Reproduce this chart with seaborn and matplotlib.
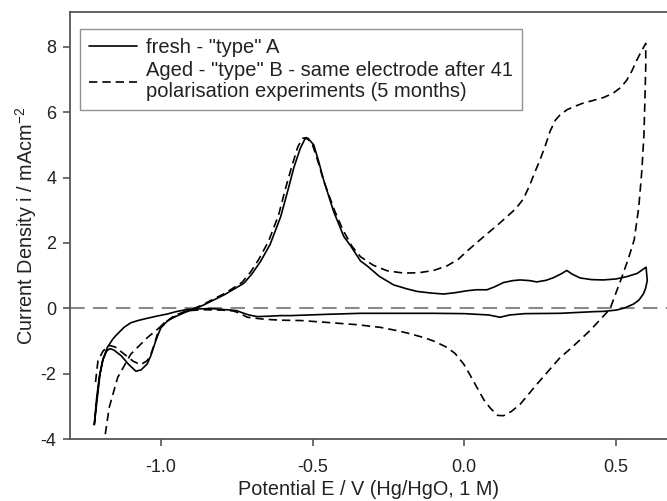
import matplotlib
matplotlib.use("Agg")
import matplotlib.pyplot as plt
import seaborn as sns
import pandas as pd
from matplotlib.lines import Line2D

# Cyclic voltammograms: potential E (V vs Hg/HgO) and current density i (mA cm^-2)
fresh_E = [-1.219, -1.21, -1.2, -1.19, -1.178, -1.168, -1.155, -1.13, -1.105, -1.082,
           -1.065, -1.045, -1.033, -1.015, -1.0, -0.978, -0.956, -0.92, -0.89, -0.86,
           -0.825, -0.79, -0.759, -0.726, -0.7, -0.671, -0.64, -0.605, -0.58, -0.561,
           -0.54, -0.525, -0.515, -0.496, -0.48, -0.463, -0.43, -0.397, -0.375, -0.342,
           -0.32, -0.28, -0.233, -0.19, -0.156, -0.11, -0.068, -0.03, 0.009, 0.04,
           0.075, 0.1, 0.129, 0.16, 0.184, 0.215, 0.239, 0.27, 0.294, 0.32,
           0.338, 0.355, 0.382, 0.42, 0.458, 0.5, 0.535, 0.57, 0.599,
           0.603, 0.597, 0.59, 0.575, 0.557, 0.53, 0.502, 0.46, 0.426, 0.316,
           0.2, 0.15, 0.118, 0.08, 0.0, -0.1, -0.2, -0.342, -0.45, -0.572,
           -0.605, -0.65, -0.682, -0.71, -0.726, -0.75, -0.77, -0.8, -0.825, -0.87,
           -0.912, -0.95, -0.978, -1.01, -1.044, -1.075, -1.099, -1.12, -1.132, -1.148,
           -1.159, -1.176, -1.192, -1.203, -1.212, -1.219]
fresh_i = [-3.55, -2.8, -2.0, -1.55, -1.3, -1.23, -1.27, -1.45, -1.72, -1.92,
           -1.88, -1.7, -1.45, -0.95, -0.6, -0.38, -0.27, -0.12, -0.02, 0.1,
           0.26, 0.42, 0.59, 0.77, 1.05, 1.44, 1.95, 2.8, 3.65, 4.32,
           4.9, 5.18, 5.2, 5.0, 4.5, 3.91, 2.95, 2.2, 1.92, 1.45,
           1.3, 0.98, 0.72, 0.6, 0.52, 0.47, 0.44, 0.48, 0.54, 0.57,
           0.57, 0.66, 0.79, 0.85, 0.87, 0.85, 0.81, 0.86, 0.94, 1.06,
           1.16, 1.05, 0.93, 0.88, 0.87, 0.9, 0.97, 1.07, 1.26,
           0.85, 0.6, 0.44, 0.25, 0.13, 0.02, -0.05, -0.09, -0.1, -0.15,
           -0.16, -0.2, -0.27, -0.2, -0.16, -0.15, -0.15, -0.15, -0.18, -0.22,
           -0.22, -0.24, -0.25, -0.2, -0.15, -0.07, -0.05, -0.03, -0.01, -0.01,
           -0.03, -0.1, -0.17, -0.23, -0.3, -0.37, -0.44, -0.57, -0.68, -0.83,
           -0.95, -1.19, -1.6, -2.11, -2.8, -3.55]

aged_E = [-1.215, -1.207, -1.19, -1.17, -1.15, -1.12, -1.09, -1.066, -1.045, -1.033,
          -1.018, -1.006, -0.985, -0.956, -0.92, -0.89, -0.86, -0.83, -0.795, -0.765,
          -0.732, -0.705, -0.677, -0.645, -0.612, -0.588, -0.568, -0.548, -0.532, -0.52,
          -0.5, -0.484, -0.465, -0.43, -0.4, -0.37, -0.342, -0.3, -0.254, -0.2,
          -0.15, -0.101, -0.057, -0.02, 0.009, 0.04, 0.075, 0.11, 0.14, 0.17,
          0.195, 0.215, 0.232, 0.25, 0.268, 0.283, 0.3, 0.316, 0.34, 0.36,
          0.39, 0.426, 0.46, 0.491, 0.515, 0.535, 0.553, 0.568, 0.583, 0.598,
          0.598, 0.595, 0.592, 0.585, 0.575, 0.56, 0.54, 0.519, 0.48, 0.414,
          0.349, 0.316, 0.239, 0.184, 0.155, 0.129, 0.11, 0.086, 0.065, 0.042,
          0.02, -0.002, -0.03, -0.057, -0.1, -0.134, -0.18, -0.221, -0.276, -0.35,
          -0.45, -0.54, -0.605, -0.66, -0.715, -0.74, -0.76, -0.8, -0.86, -0.912,
          -0.956, -0.99, -1.044, -1.099, -1.142, -1.17, -1.19]
aged_i = [-2.25, -1.6, -1.3, -1.13, -1.18, -1.4, -1.62, -1.72, -1.6, -1.42,
          -1.0, -0.62, -0.4, -0.26, -0.1, 0.0, 0.12, 0.27, 0.43, 0.6,
          0.8, 1.1, 1.5, 2.05, 2.85, 3.7, 4.35, 4.95, 5.2, 5.22,
          5.0, 4.55, 3.95, 3.05, 2.4, 1.9, 1.58, 1.32, 1.15, 1.08,
          1.09, 1.16, 1.3, 1.5, 1.75, 2.0, 2.28, 2.55, 2.8, 3.05,
          3.35, 3.75, 4.15, 4.55, 5.0, 5.42, 5.75, 5.92, 6.08, 6.16,
          6.27, 6.36, 6.45, 6.58, 6.75, 6.97, 7.27, 7.58, 7.85, 8.1,
          7.4, 6.3, 5.3, 4.2, 3.1, 2.1, 1.5, 0.95, -0.02, -0.68,
          -1.24, -1.5, -2.32, -2.93, -3.15, -3.28, -3.27, -3.05, -2.8, -2.42,
          -2.05, -1.7, -1.38, -1.19, -1.0, -0.89, -0.77, -0.68, -0.58, -0.5,
          -0.43, -0.37, -0.36, -0.33, -0.27, -0.15, -0.08, -0.05, -0.04, -0.07,
          -0.22, -0.48, -0.89, -1.4, -2.11, -3.03, -4.3]

legend_labels = ['fresh - "type" A',
                 'Aged - "type" B - same electrode after 41\npolarisation experiments (5 months)']
x_ticks = [-1.0, -0.5, 0.0, 0.5]
y_ticks = [-4, -2, 0, 2, 4, 6, 8]

sns.set_style("ticks")
plt.rcParams["font.family"] = ["Liberation Sans", "DejaVu Sans"]
plt.rcParams["axes.unicode_minus"] = False

text_col = "#222222"
fig = plt.figure(figsize=(6.67, 5.01), dpi=100)
ax = fig.add_axes([0.105, 0.1232, 0.895, 0.8522])

fresh = pd.DataFrame({"E": fresh_E, "i": fresh_i})
aged = pd.DataFrame({"E": aged_E, "i": aged_i})

ax.axhline(0, color="#8a8a8a", lw=1.5, dashes=(7, 4), zorder=1)
sns.lineplot(data=fresh, x="E", y="i", sort=False, estimator=None, ax=ax,
             color="black", lw=1.2, zorder=3)
sns.lineplot(data=aged, x="E", y="i", sort=False, estimator=None, ax=ax,
             color="black", lw=1.2, dashes=False, zorder=3)
ax.lines[-1].set_dashes((5, 3))

ax.set_xlim(-1.299, 0.668)
ax.set_ylim(-4, 9.05)
ax.set_xticks(x_ticks)
ax.set_xticklabels([f"{t:.1f}" for t in x_ticks])
ax.set_yticks(y_ticks)
ax.set_yticklabels([str(t) for t in y_ticks])

for side in ("left", "bottom", "top"):
    ax.spines[side].set_color("#555555")
    ax.spines[side].set_linewidth(1.3)
ax.spines["right"].set_visible(False)
ax.tick_params(axis="both", direction="out", length=5, width=1.2, color="#555555",
               labelsize=13, labelcolor=text_col, pad=5)
ax.tick_params(axis="x", pad=9)

ax.set_xlabel("Potential E / V (Hg/HgO, 1 M)", fontsize=14.3, color=text_col, labelpad=3)
ax.set_ylabel("Current Density i / mAcm$^{\\mathregular{-2}}$", fontsize=14.3,
              color=text_col, labelpad=1)

handles = [Line2D([], [], color="black", lw=1.2),
           Line2D([], [], color="black", lw=1.2, dashes=(5, 3))]
leg = ax.legend(handles, legend_labels, loc="upper left", bbox_to_anchor=(0.016, 0.961),
                fontsize=14.5, frameon=True, fancybox=False, handlelength=2.4,
                handletextpad=0.45, borderpad=0.45, borderaxespad=0.0,
                labelspacing=0.2, labelcolor=text_col)
for t in leg.get_texts():
    t.set_linespacing(1.15)
leg.get_frame().set_edgecolor("#777777")
leg.get_frame().set_linewidth(1.0)

fig.savefig("out.png", dpi=100)
